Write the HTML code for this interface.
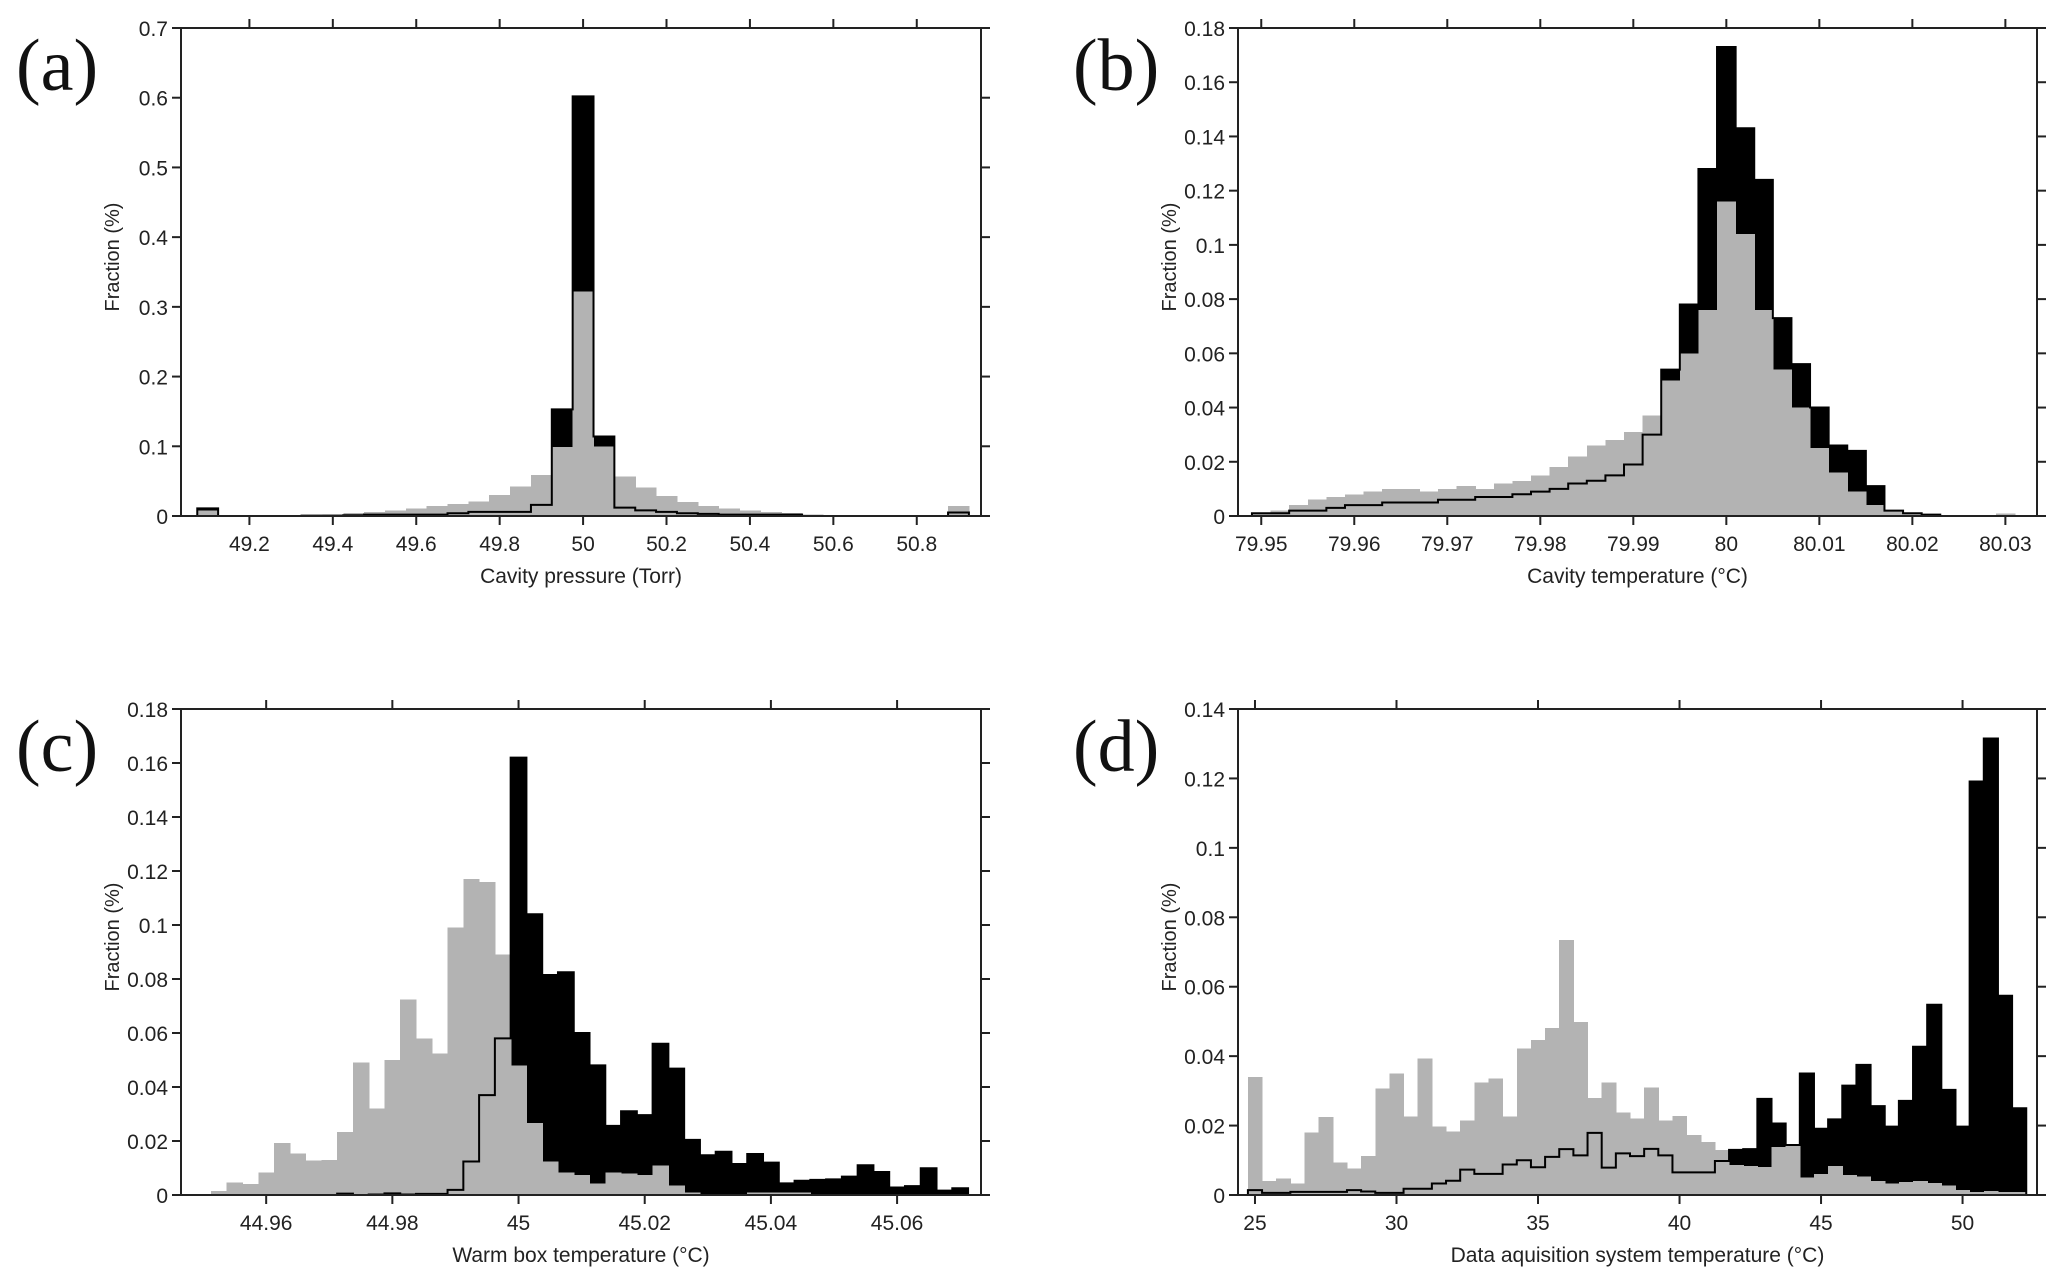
<!DOCTYPE html>
<html><head><meta charset="utf-8"><style>
html,body{margin:0;padding:0;background:#fff;}
svg{display:block;}
text{font-family:"Liberation Sans",Arial,sans-serif;fill:#222;}
.lbl{font-family:"Liberation Serif",serif;fill:#111;}
</style></head><body>
<svg id="fig" width="2067" height="1287" viewBox="0 0 2067 1287" xmlns="http://www.w3.org/2000/svg"></svg>
<script>
// Panel (a) data
const aBinStart = 49.1, aBinWidth = 0.05;
const aGray = [.008,0,0,0,0,.001,.002,.004,.006,.008,.011,.014,.017,.021,.030,.042,.059,.099,.322,.100,.057,.041,.029,.020,.014,.011,.008,.006,.004,.002,.001,.001,0,0,0,0,.014];
const aBlack = [.011,0,0,0,0,.0005,.0005,.001,.002,.002,.002,.002,.004,.006,.006,.006,.016,.153,.602,.114,.012,.008,.006,.004,.003,.002,.002,.002,.002,0,0,0,0,0,0,0,.005];
const aXTicks = [49.2,49.4,49.6,49.8,50,50.2,50.4,50.6,50.8];
const aXTickLabels = ["49.2","49.4","49.6","49.8","50","50.2","50.4","50.6","50.8"];
const aYTicks = [0,0.1,0.2,0.3,0.4,0.5,0.6,0.7];
const aYTickLabels = ["0","0.1","0.2","0.3","0.4","0.5","0.6","0.7"];
// Panel (b) data
const bBinStart = 79.95, bBinWidth = 0.002;
const bGray = [.001,.002,.004,.006,.007,.008,.009,.010,.010,.009,.010,.011,.010,.012,.013,.015,.018,.022,.026,.028,.031,.037,.050,.060,.076,.116,.104,.076,.054,.040,.025,.016,.009,.004,.002,.001,.0005,0,0,0,.001];
const bBlack = [.001,.001,.002,.002,.003,.004,.004,.005,.005,.005,.006,.006,.007,.007,.008,.009,.010,.012,.013,.015,.019,.030,.054,.078,.128,.173,.143,.124,.073,.056,.040,.026,.024,.011,.002,.001,.0005,0,0,0,0];
const bXTicks = [79.95,79.96,79.97,79.98,79.99,80,80.01,80.02,80.03];
const bXTickLabels = ["79.95","79.96","79.97","79.98","79.99","80","80.01","80.02","80.03"];
const bYTicks = [0,.02,.04,.06,.08,.1,.12,.14,.16,.18];
const bYTickLabels = ["0","0.02","0.04","0.06","0.08","0.1","0.12","0.14","0.16","0.18"];
// Panel (c) data
const cBinStart = 44.9525, cBinWidth = 0.0025;
const cGray = [.0015,.0047,.0041,.0084,.0193,.0154,.0127,.013,.0233,.049,.032,.050,.0725,.058,.0525,.099,.117,.116,.089,.048,.0266,.0124,.0084,.0074,.0043,.0083,.008,.0074,.0109,.0035,.0009,0,0,0,.001,.001,.001,.001,0,0,0,0,0,0,0,0,0,0];
const cBlack = [0,0,0,0,0,0,0,0,.0005,0,.0002,.0006,.0002,.0004,.0004,.0019,.0124,.037,.058,.162,.104,.0815,.0825,.060,.048,.0256,.031,.0296,.056,.0468,.0204,.0147,.016,.0115,.0152,.012,.0043,.0053,.0056,.0058,.0068,.011,.0085,.0028,.0033,.0099,.0016,.0025];
const cXTicks = [44.96,44.98,45,45.02,45.04,45.06];
const cXTickLabels = ["44.96","44.98","45","45.02","45.04","45.06"];
const cYTicks = bYTicks;
const cYTickLabels = bYTickLabels;
// Panel (d) data
const dBinStart = 25, dBinWidth = 0.5;
const dGray = [.034,.004,.0047,.0033,.018,.0224,.0094,.0077,.0112,.0307,.035,.0226,.0393,.0197,.0183,.0215,.0324,.0336,.0226,.0422,.0446,.0481,.0734,.0498,.028,.0324,.0238,.022,.031,.0215,.0228,.0173,.0153,.013,.0086,.0083,.008,.0138,.0145,.005,.0061,.0083,.0057,.0053,.0041,.0033,.0038,.0041,.0035,.0027,.0015,.0008,.0012,.0008,.0008];
const dBlack = [.0014,.0006,.0006,.0009,.0009,.0009,.0009,.0014,.001,.0006,.0006,.0018,.0018,.0033,.0041,.0073,.0061,.0061,.0088,.010,.008,.011,.0132,.0114,.0179,.0079,.012,.0112,.0133,.0114,.0065,.0065,.0065,.0098,.013,.0132,.0277,.0206,.0144,.035,.0191,.0218,.0315,.0375,.0256,.0197,.0271,.0427,.0548,.0303,.0197,.1191,.1315,.0574,.025];
const dXTicks = [25,30,35,40,45,50];
const dXTickLabels = ["25","30","35","40","45","50"];
const dYTicks = [0,.02,.04,.06,.08,.1,.12,.14];
const dYTickLabels = ["0","0.02","0.04","0.06","0.08","0.1","0.12","0.14"];

const NS = "http://www.w3.org/2000/svg";
const svg = document.getElementById('fig');
function mk(tag, attrs, parent) {
  const e = document.createElementNS(NS, tag);
  for (const k in attrs) e.setAttribute(k, attrs[k]);
  (parent || svg).appendChild(e);
  return e;
}

function panel(id, letter, box, xdom, ydom, start, w, gray, black, xt, xtl, yt, ytl, xlabel) {
  const g = mk('g', {});
  
  
  const X = v => box.x0 + (v - xdom[0]) / (xdom[1] - xdom[0]) * (box.x1 - box.x0);
  const Y = v => box.y1 - (v - ydom[0]) / (ydom[1] - ydom[0]) * (box.y1 - box.y0);
  black.forEach((v, i) => {
    if (v <= 0) return;
    const c = start + i * w;
    const r = mk('rect', {x: X(c - w/2), y: Y(v), width: X(c + w/2) - X(c - w/2) + 0.6, height: Y(0) - Y(v), fill: '#000', 'shape-rendering': 'crispEdges'}, g);
    
    
  });
  gray.forEach((v, i) => {
    if (v <= 0) return;
    const c = start + i * w;
    const r = mk('rect', {x: X(c - w/2), y: Y(v), width: X(c + w/2) - X(c - w/2) + 0.6, height: Y(0) - Y(v), fill: '#b3b3b3', 'shape-rendering': 'crispEdges'}, g);
    
    
  });
  let d = '';
  black.forEach((v, i) => {
    const c = start + i * w;
    const xa = X(c - w/2), xb = X(c + w/2), y = Y(v);
    d += (i === 0 ? 'M' + xa + ',' + Y(0) + 'L' + xa + ',' + y : 'L' + xa + ',' + y) + 'L' + xb + ',' + y;
    if (i === black.length - 1) d += 'L' + xb + ',' + Y(0);
  });
  const p = mk('path', {d: d, fill: 'none', stroke: '#000', 'stroke-width': 2}, g);
  
  
  const fr = mk('rect', {x: box.x0, y: box.y0, width: box.x1 - box.x0, height: box.y1 - box.y0, fill: 'none', stroke: '#222', 'stroke-width': 2}, g);
  
  
  const T = 9;
  xt.forEach((v, i) => {
    const x = X(v);
    mk('line', {x1: x, x2: x, y1: box.y1, y2: box.y1 + T, stroke: '#222', 'stroke-width': 2}, g);
    mk('line', {x1: x, x2: x, y1: box.y0, y2: box.y0 - T, stroke: '#222', 'stroke-width': 2}, g);
    const t = mk('text', {x: x, y: box.y1 + 35, 'text-anchor': 'middle', 'font-size': 21}, g);
    t.textContent = xtl[i];
    
    
  });
  yt.forEach((v, i) => {
    const y = Y(v);
    mk('line', {x1: box.x0, x2: box.x0 - T, y1: y, y2: y, stroke: '#222', 'stroke-width': 2}, g);
    mk('line', {x1: box.x1, x2: box.x1 + T, y1: y, y2: y, stroke: '#222', 'stroke-width': 2}, g);
    const t = mk('text', {x: box.x0 - 13, y: y + 8, 'text-anchor': 'end', 'font-size': 21}, g);
    t.textContent = ytl[i];
    
    
  });
  const xl = mk('text', {x: (box.x0 + box.x1) / 2, y: box.y1 + 67, 'text-anchor': 'middle', 'font-size': 21}, g);
  xl.textContent = xlabel;
  
  
  const yc = (box.y0 + box.y1) / 2 - 15, yx = box.x0 - 62;
  const yl = mk('text', {x: yx, y: yc, 'text-anchor': 'middle', 'font-size': 20, transform: 'rotate(-90 ' + yx + ' ' + yc + ')'}, g);
  yl.textContent = 'Fraction (%)';
  
  
  const pl = mk('text', {x: box.x0 - 165, y: box.y0 + 62, 'font-size': 74, class: 'lbl'}, g);
  pl.textContent = letter;
  
  
}

panel('a', '(a)', {x0:181,x1:981,y0:28,y1:516}, [49.036,50.954], [0,0.7], aBinStart, aBinWidth, aGray, aBlack, aXTicks, aXTickLabels, aYTicks, aYTickLabels, 'Cavity pressure (Torr)');
panel('b', '(b)', {x0:1238,x1:2037,y0:28,y1:516}, [79.9475,80.0334], [0,0.18], bBinStart, bBinWidth, bGray, bBlack, bXTicks, bXTickLabels, bYTicks, bYTickLabels, 'Cavity temperature (°C)');
panel('c', '(c)', {x0:181,x1:981,y0:709,y1:1195}, [44.9465,45.0733], [0,0.18], cBinStart, cBinWidth, cGray, cBlack, cXTicks, cXTickLabels, cYTicks, cYTickLabels, 'Warm box temperature (°C)');
panel('d', '(d)', {x0:1238,x1:2037,y0:709,y1:1195}, [24.4,52.63], [0,0.14], dBinStart, dBinWidth, dGray, dBlack, dXTicks, dXTickLabels, dYTicks, dYTickLabels, 'Data aquisition system temperature (°C)');
</script>
</body></html>
